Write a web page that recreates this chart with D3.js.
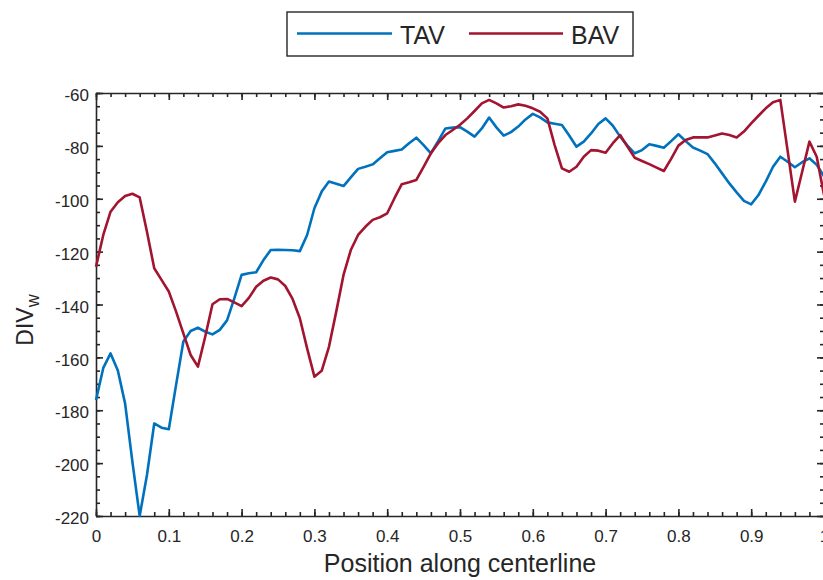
<!DOCTYPE html>
<html>
<head>
<meta charset="utf-8">
<script src="https://cdn.jsdelivr.net/npm/d3@7"></script>
<style>
  html, body { margin: 0; padding: 0; background: #fff; }
  svg { display: block; }
  text { font-family: "Liberation Sans", Arial, Helvetica, sans-serif; fill: #262626; }
</style>
</head>
<body>
<svg id="chart" width="823" height="580"></svg>
<script>
// Normalised position along the vessel centerline
const position = [
  0.00, 0.01, 0.02, 0.03, 0.04, 0.05, 0.06, 0.07, 0.08, 0.09,
  0.10, 0.11, 0.12, 0.13, 0.14, 0.15, 0.16, 0.17, 0.18, 0.19,
  0.20, 0.21, 0.22, 0.23, 0.24, 0.25, 0.26, 0.27, 0.28, 0.29,
  0.30, 0.31, 0.32, 0.33, 0.34, 0.35, 0.36, 0.37, 0.38, 0.39,
  0.40, 0.41, 0.42, 0.43, 0.44, 0.45, 0.46, 0.47, 0.48, 0.49,
  0.50, 0.51, 0.52, 0.53, 0.54, 0.55, 0.56, 0.57, 0.58, 0.59,
  0.60, 0.61, 0.62, 0.63, 0.64, 0.65, 0.66, 0.67, 0.68, 0.69,
  0.70, 0.71, 0.72, 0.73, 0.74, 0.75, 0.76, 0.77, 0.78, 0.79,
  0.80, 0.81, 0.82, 0.83, 0.84, 0.85, 0.86, 0.87, 0.88, 0.89,
  0.90, 0.91, 0.92, 0.93, 0.94, 0.95, 0.96, 0.97, 0.98, 0.99,
  1.00
];

// DIV_w for the tricuspid valve case
const tav = [
  -176.1, -164.0, -158.5, -165.0, -177.5, -199.5, -220.0, -204.5, -185.0, -186.6,
  -187.2, -170.4, -154.0, -150.0, -148.8, -150.3, -151.3, -149.6, -146.0, -137.7,
  -128.8, -128.2, -127.8, -123.2, -119.4, -119.3, -119.4, -119.5, -119.8, -113.7,
  -103.6,  -97.3,  -93.5,  -94.3,  -95.2,  -91.9,  -88.7,  -87.9,  -87.0,  -84.7,
   -82.4,  -81.9,  -81.4,  -79.0,  -76.9,  -79.7,  -82.8,  -78.2,  -73.4,  -73.1,
   -72.9,  -74.6,  -76.5,  -73.4,  -69.3,  -73.0,  -76.1,  -74.8,  -72.7,  -70.0,
   -67.9,  -69.2,  -71.1,  -71.6,  -72.1,  -76.1,  -80.3,  -78.4,  -75.3,  -71.7,
   -69.6,  -72.4,  -76.5,  -79.9,  -82.8,  -81.6,  -79.4,  -80.0,  -80.7,  -78.2,
   -75.6,  -78.2,  -80.6,  -81.8,  -83.1,  -86.6,  -90.4,  -94.2,  -97.6, -100.8,
  -102.1,  -98.6,  -93.5,  -87.9,  -84.1,  -86.0,  -88.1,  -86.2,  -84.7,  -87.2,
   -91.5
];

// DIV_w for the bicuspid valve case
const bav = [
  -125.7, -113.7, -104.9, -101.3,  -99.0,  -98.1,  -99.5, -112.5, -126.3, -130.7,
  -135.1, -142.7, -150.9, -159.1, -163.5, -152.2, -139.9, -138.0, -137.9, -139.2,
  -140.6, -137.5, -133.3, -131.0, -129.8, -130.5, -133.0, -137.9, -145.2, -156.6,
  -167.3, -165.1, -156.0, -142.7, -128.8, -119.4, -113.7, -110.6, -108.0, -107.0,
  -105.5,  -99.8,  -94.5,  -93.8,  -92.9,  -87.9,  -82.8,  -79.0,  -75.9,  -74.0,
   -72.0,  -69.6,  -66.8,  -63.9,  -62.6,  -63.9,  -65.5,  -65.0,  -64.3,  -64.8,
   -65.8,  -67.1,  -69.6,  -79.7,  -88.5,  -89.8,  -87.9,  -84.1,  -81.6,  -81.8,
   -82.6,  -79.0,  -75.9,  -80.3,  -84.5,  -85.7,  -86.9,  -88.2,  -89.5,  -84.9,
   -79.9,  -77.8,  -76.8,  -76.8,  -76.8,  -76.1,  -75.3,  -75.9,  -76.8,  -74.6,
   -71.5,  -68.6,  -65.8,  -63.5,  -62.6,  -81.8, -101.1,  -89.8,  -78.4,  -84.1,
   -98.6
];

const seriesNames = ["TAV", "BAV"];
const seriesColors = ["#0072BD", "#A2142F"];

const xTicks = [0, 0.1, 0.2, 0.3, 0.4, 0.5, 0.6, 0.7, 0.8, 0.9, 1];
const xTickLabels = ["0", "0.1", "0.2", "0.3", "0.4", "0.5", "0.6", "0.7", "0.8", "0.9", "1"];
const yTicks = [-220, -200, -180, -160, -140, -120, -100, -80, -60];
const yTickLabels = ["-220", "-200", "-180", "-160", "-140", "-120", "-100", "-80", "-60"];

const xLabel = "Position along centerline";

// Plot box
const box = { left: 96, right: 824, top: 93, bottom: 516 };
const axisColor = "#262626";

const svg = d3.select("#chart");

const x = d3.scaleLinear().domain([0, 1]).range([box.left, box.right]);
const y = d3.scaleLinear().domain([-220, -60]).range([box.bottom, box.top]);

function styleAxis(g) {
  g.select(".domain").attr("stroke", axisColor).attr("stroke-width", 1.6);
  g.selectAll(".tick line").attr("stroke", axisColor).attr("stroke-width", 1.6);
  g.selectAll(".tick text").attr("fill", axisColor);
}

// Minor ticks (inward)
const xMinor = x.ticks(50);
const yMinor = y.ticks(32);
[
  ["bottom", d3.axisBottom(x), box.bottom, null],
  ["top", d3.axisTop(x), box.top, null],
].forEach(([, ax, ty]) => {
  svg.append("g")
    .attr("transform", `translate(0,${ty})`)
    .call(ax.tickValues(xMinor).tickSize(-4).tickSizeOuter(0).tickFormat(""))
    .call(styleAxis)
    .call(g => g.select(".domain").remove());
});
[
  [d3.axisLeft(y), box.left],
  [d3.axisRight(y), box.right],
].forEach(([ax, tx]) => {
  svg.append("g")
    .attr("transform", `translate(${tx},0)`)
    .call(ax.tickValues(yMinor).tickSize(-4).tickSizeOuter(0).tickFormat(""))
    .call(styleAxis)
    .call(g => g.select(".domain").remove());
});

// Major axes
svg.append("g")
  .attr("transform", `translate(0,${box.bottom})`)
  .call(d3.axisBottom(x).tickValues(xTicks).tickFormat((d, i) => xTickLabels[i])
    .tickSize(-7).tickSizeOuter(0).tickPadding(13.5))
  .call(styleAxis)
  .call(g => g.selectAll(".tick text").attr("font-size", 17).attr("font-family", null));

svg.append("g")
  .attr("transform", `translate(0,${box.top})`)
  .call(d3.axisTop(x).tickValues(xTicks).tickFormat("").tickSize(-7).tickSizeOuter(0))
  .call(styleAxis);

svg.append("g")
  .attr("transform", `translate(${box.left},0)`)
  .call(d3.axisLeft(y).tickValues(yTicks).tickFormat((d, i) => yTickLabels[i])
    .tickSize(-7).tickSizeOuter(0).tickPadding(7))
  .call(styleAxis)
  .call(g => g.selectAll(".tick text").attr("font-size", 17).attr("dy", "0.45em").attr("font-family", null));

svg.append("g")
  .attr("transform", `translate(${box.right},0)`)
  .call(d3.axisRight(y).tickValues(yTicks).tickFormat("").tickSize(-7).tickSizeOuter(0))
  .call(styleAxis);

// Data lines
const line = d3.line()
  .x((d, i) => x(position[i]))
  .y(d => y(d));

[tav, bav].forEach((series, k) => {
  svg.append("path")
    .datum(series)
    .attr("fill", "none")
    .attr("stroke", seriesColors[k])
    .attr("stroke-width", 2.6)
    .attr("stroke-linejoin", "round")
    .attr("d", line);
});

// Axis titles
svg.append("text")
  .attr("x", (box.left + box.right) / 2)
  .attr("y", 572)
  .attr("text-anchor", "middle")
  .attr("font-size", 25)
  .text(xLabel);

const yTitle = svg.append("text")
  .attr("transform", "translate(33,320) rotate(-90)")
  .attr("text-anchor", "middle")
  .attr("font-size", 23);
yTitle.append("tspan").text("DIV");
yTitle.append("tspan").attr("font-size", 18).attr("dy", 6).text("w");

// Legend
const legend = svg.append("g");
legend.append("rect")
  .attr("x", 287).attr("y", 12)
  .attr("width", 346).attr("height", 44)
  .attr("fill", "#fff")
  .attr("stroke", axisColor)
  .attr("stroke-width", 1.4);

const legendItems = [
  { x1: 297, x2: 392, tx: 400 },
  { x1: 469, x2: 563, tx: 571 }
];
legendItems.forEach((it, k) => {
  legend.append("line")
    .attr("x1", it.x1).attr("x2", it.x2)
    .attr("y1", 33.5).attr("y2", 33.5)
    .attr("stroke", seriesColors[k])
    .attr("stroke-width", 2.6);
  legend.append("text")
    .attr("x", it.tx).attr("y", 44)
    .attr("font-size", 25)
    .attr("fill", "#000")
    .text(seriesNames[k]);
});
</script>
</body>
</html>
